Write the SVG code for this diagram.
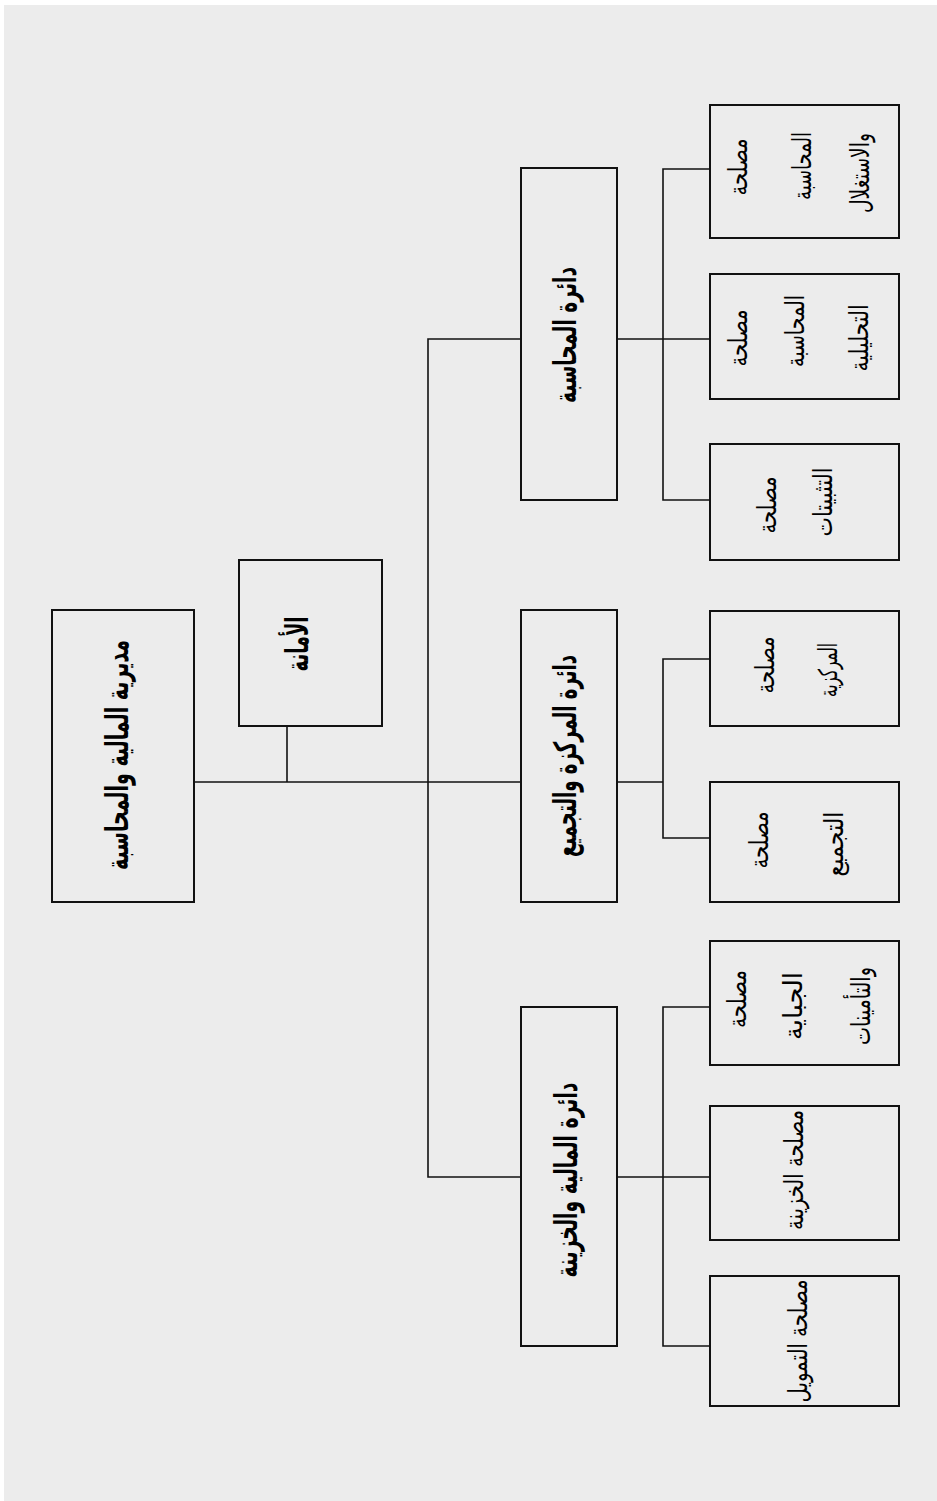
<svg xmlns="http://www.w3.org/2000/svg" width="937" height="1501" viewBox="0 0 937 1501">
<style>
.box{fill:none;stroke:#111;stroke-width:2}
.ln{fill:none;stroke:#111;stroke-width:1.6}
.t{font-family:"DejaVu Sans",sans-serif;fill:#000;text-anchor:middle;dominant-baseline:central}
.b{font-weight:bold;font-size:31px}
.s{font-size:26px}
</style>
<rect x="0" y="0" width="937" height="1501" fill="#fff"/>
<rect x="4" y="5" width="933" height="1496" fill="#ececec"/>
<g id="connectors">
<polyline class="ln" points="194,782 521,782"/>
<polyline class="ln" points="287,726 287,782"/>
<polyline class="ln" points="521,339 428,339 428,1177 521,1177"/>
<polyline class="ln" points="617,339 710,339"/>
<polyline class="ln" points="710,169 663,169 663,500 710,500"/>
<polyline class="ln" points="617,782 663,782"/>
<polyline class="ln" points="710,659 663,659 663,838 710,838"/>
<polyline class="ln" points="617,1177 710,1177"/>
<polyline class="ln" points="710,1007 663,1007 663,1346 710,1346"/>
</g>
<g id="root">
<rect class="box" x="52" y="610" width="142" height="292"/>
<text class="t b" transform="translate(117,755) rotate(-90)" textLength="230" lengthAdjust="spacingAndGlyphs">مديرية المالية والمحاسبة</text>
</g>
<g id="amana">
<rect class="box" x="239" y="560" width="143" height="166"/>
<text class="t b" transform="translate(297,644) rotate(-90)" textLength="55" lengthAdjust="spacingAndGlyphs">الأمانة</text>
</g>
<g id="dept-accounting">
<rect class="box" x="521" y="168" width="96" height="332"/>
<text class="t b" transform="translate(565,335) rotate(-90)" textLength="136" lengthAdjust="spacingAndGlyphs">دائرة المحاسبة</text>
</g>
<g id="dept-centralization">
<rect class="box" x="521" y="610" width="96" height="292"/>
<text class="t b" transform="translate(565,756) rotate(-90)" textLength="202" lengthAdjust="spacingAndGlyphs">دائرة المركزة والتجميع</text>
</g>
<g id="dept-finance">
<rect class="box" x="521" y="1007" width="96" height="339"/>
<text class="t b" transform="translate(566,1180) rotate(-90)" textLength="195" lengthAdjust="spacingAndGlyphs">دائرة المالية والخزينة</text>
</g>
<g id="svc-exploitation">
<rect class="box" x="710" y="105" width="189" height="133"/>
<text class="t s" transform="translate(738,167) rotate(-90)" textLength="57" lengthAdjust="spacingAndGlyphs">مصلحة</text>
<text class="t s" transform="translate(802,166) rotate(-90)" textLength="68" lengthAdjust="spacingAndGlyphs">المحاسبة</text>
<text class="t s" transform="translate(860,173) rotate(-90)" textLength="80" lengthAdjust="spacingAndGlyphs">والاستغلال</text>
</g>
<g id="svc-analytic">
<rect class="box" x="710" y="274" width="189" height="125"/>
<text class="t s" transform="translate(738,338) rotate(-90)" textLength="57" lengthAdjust="spacingAndGlyphs">مصلحة</text>
<text class="t s" transform="translate(795,331) rotate(-90)" textLength="72" lengthAdjust="spacingAndGlyphs">المحاسبة</text>
<text class="t s" transform="translate(859,338) rotate(-90)" textLength="67" lengthAdjust="spacingAndGlyphs">التحليلية</text>
</g>
<g id="svc-fixed">
<rect class="box" x="710" y="444" width="189" height="116"/>
<text class="t s" transform="translate(767,505) rotate(-90)" textLength="57" lengthAdjust="spacingAndGlyphs">مصلحة</text>
<text class="t s" transform="translate(823,502) rotate(-90)" textLength="69" lengthAdjust="spacingAndGlyphs">التثبيتات</text>
</g>
<g id="svc-central">
<rect class="box" x="710" y="611" width="189" height="115"/>
<text class="t s" transform="translate(765,665) rotate(-90)" textLength="57" lengthAdjust="spacingAndGlyphs">مصلحة</text>
<text class="t s" transform="translate(828,670) rotate(-90)" textLength="54" lengthAdjust="spacingAndGlyphs">المركزية</text>
</g>
<g id="svc-grouping">
<rect class="box" x="710" y="782" width="189" height="120"/>
<text class="t s" transform="translate(759,840) rotate(-90)" textLength="57" lengthAdjust="spacingAndGlyphs">مصلحة</text>
<text class="t s" transform="translate(834,844) rotate(-90)" textLength="65" lengthAdjust="spacingAndGlyphs">التجميع</text>
</g>
<g id="svc-collection">
<rect class="box" x="710" y="941" width="189" height="124"/>
<text class="t s" transform="translate(737,999) rotate(-90)" textLength="58" lengthAdjust="spacingAndGlyphs">مصلحة</text>
<text class="t s" transform="translate(793,1006) rotate(-90)" textLength="68" lengthAdjust="spacingAndGlyphs">الجباية</text>
<text class="t s" transform="translate(861,1006) rotate(-90)" textLength="78" lengthAdjust="spacingAndGlyphs">والتأمينات</text>
</g>
<g id="svc-treasury">
<rect class="box" x="710" y="1106" width="189" height="134"/>
<text class="t s" transform="translate(794,1170) rotate(-90)" textLength="120" lengthAdjust="spacingAndGlyphs">مصلحة الخزينة</text>
</g>
<g id="svc-funding">
<rect class="box" x="710" y="1276" width="189" height="130"/>
<text class="t s" transform="translate(798,1341) rotate(-90)" textLength="123" lengthAdjust="spacingAndGlyphs">مصلحة التمويل</text>
</g>
</svg>
